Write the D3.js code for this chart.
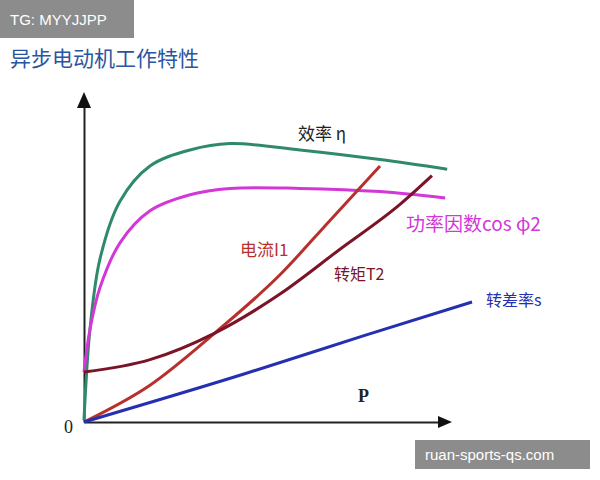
<!DOCTYPE html><html><head><meta charset="utf-8"><script src="https://cdn.jsdelivr.net/npm/d3@7"></script>
<style>body{margin:0;background:#fff}</style></head><body><svg id="c" width="600" height="480"></svg>
<script>
const efficiency=[[0,0.06],[0.15,2.9],[0.4,5.1],[0.9,6.9],[1.65,8.0],[2.65,8.5],[3.65,8.7],[5.4,8.5],[7.4,8.2],[9.08,7.9]];
const powerFactor=[[0,1.56],[0.15,2.9],[0.4,4.2],[0.9,5.6],[1.65,6.6],[2.65,7.1],[3.65,7.3],[5.4,7.3],[7.4,7.2],[9.03,7.0]];
const current=[[0,0],[1.65,1.15],[3.27,2.78],[4.9,4.6],[6.15,6.3],[7.4,8.0]];
const torque=[[0,1.56],[1.65,1.95],[3.27,2.78],[4.9,4.0],[6.4,5.4],[7.9,6.8],[8.7,7.7]];
const slip=[[0,0],[4,1.5],[7,2.7],[9.7,3.75]];
const svg=d3.select("#c");
const x=d3.scaleLinear().domain([0,10]).range([84,484]);
const y=d3.scaleLinear().domain([0,10]).range([422,102]);
svg.append("g").attr("transform","translate(84,0)").call(d3.axisLeft(d3.scaleLinear().domain([0,1]).range([422,100])).ticks(0).tickSizeOuter(0)).select("path").attr("stroke","#222").attr("stroke-width",2);
svg.append("g").attr("transform","translate(0,422)").call(d3.axisBottom(d3.scaleLinear().domain([0,1]).range([84,445])).ticks(0).tickSizeOuter(0)).select("path").attr("stroke","#222").attr("stroke-width",2);
svg.append("path").attr("d","M84,92 L77,108 L91,108 Z").attr("fill","#111");
svg.append("path").attr("d","M452,422 L438,416 L438,428 Z").attr("fill","#111");
const line=d3.line().x(d=>x(d[0])).y(d=>y(d[1])).curve(d3.curveCatmullRom);
const lineM=d3.line().x(d=>x(d[0])).y(d=>y(d[1])).curve(d3.curveMonotoneX);
[[efficiency,"#2f8a68",line],[powerFactor,"#d238d8",line],[current,"#b8302c",lineM],[torque,"#7a1426",lineM],[slip,"#2430b0",lineM]].forEach(([d,c,l])=>{
 svg.append("path").datum(d).attr("d",l).attr("fill","none").attr("stroke",c).attr("stroke-width",3);
});
const t=(s,px,py,c,fs,ff)=>svg.append("text").attr("x",px).attr("y",py).attr("fill",c).attr("font-size",fs).attr("font-family",ff||"Noto Sans CJK SC, serif").text(s);
t("异步电动机工作特性",10,66,"#2a55a0",21);
t("效率 η",298,140,"#222",17);
t("功率因数cos φ2",406,231,"#d238d8",19);
t("电流I1",240,256,"#b8302c",17);
t("转矩T2",334,280,"#7a1426",16);
t("转差率s",486,306,"#2430b0",16);
t("0",64,433,"#222",18,"Liberation Serif");
t("P",358,402,"#222",18,"Liberation Serif").attr("font-weight","bold");
svg.append("rect").attr("x",0).attr("y",0).attr("width",134).attr("height",38).attr("fill","#8c8c8c");
t("TG: MYYJJPP",10,25,"#fff",15,"Liberation Sans");
svg.append("rect").attr("x",415).attr("y",440).attr("width",175).attr("height",29).attr("fill","#8c8c8c");
t("ruan-sports-qs.com",425,460,"#fff",15,"Liberation Sans");
</script></body></html>
